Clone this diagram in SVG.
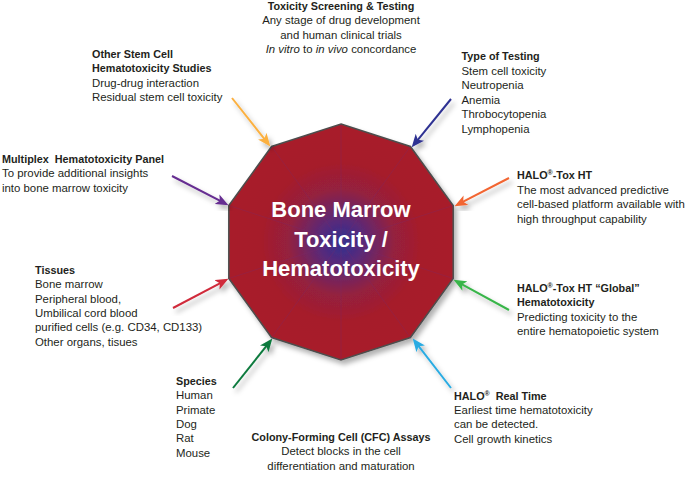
<svg xmlns="http://www.w3.org/2000/svg" width="688" height="488" viewBox="0 0 688 488">
<style>
text{font-family:"Liberation Sans",Arial,sans-serif;fill:#231f20;font-size:11.4px}
.b{font-weight:bold;font-size:10.8px}
.c{text-anchor:middle}
.title{fill:#fff;font-size:22px;font-weight:bold;text-anchor:middle}
.arr{stroke-width:2;fill:none;filter:url(#sh)}
.spoke{stroke:#7a2a6a;stroke-width:0.7;opacity:0.45}
</style>
<defs>
<filter id="sh" x="-30%" y="-30%" width="160%" height="160%">
<feDropShadow dx="3" dy="4" stdDeviation="2.5" flood-color="#000" flood-opacity="0.3"/>
</filter>
<radialGradient id="g" cx="341" cy="242" r="118" gradientUnits="userSpaceOnUse">
<stop offset="0" stop-color="#2e3192"/>
<stop offset="0.18" stop-color="#572a7b"/>
<stop offset="0.45" stop-color="#94203f"/>
<stop offset="0.68" stop-color="#a61e2a"/>
<stop offset="1" stop-color="#a81e29"/>
</radialGradient>
<marker id="m1" viewBox="0 0 12 10" markerWidth="13" markerHeight="11" markerUnits="userSpaceOnUse" refX="6" refY="5" orient="auto"><path d="M0,0 L12,5 L0,10 L3,5 z" fill="#a8246e"/></marker>
<marker id="m2" viewBox="0 0 12 10" markerWidth="13" markerHeight="11" markerUnits="userSpaceOnUse" refX="6" refY="5" orient="auto"><path d="M0,0 L12,5 L0,10 L3,5 z" fill="#fbb040"/></marker>
<marker id="m3" viewBox="0 0 12 10" markerWidth="13" markerHeight="11" markerUnits="userSpaceOnUse" refX="6" refY="5" orient="auto"><path d="M0,0 L12,5 L0,10 L3,5 z" fill="#2e3192"/></marker>
<marker id="m4" viewBox="0 0 12 10" markerWidth="13" markerHeight="11" markerUnits="userSpaceOnUse" refX="6" refY="5" orient="auto"><path d="M0,0 L12,5 L0,10 L3,5 z" fill="#f26531"/></marker>
<marker id="m5" viewBox="0 0 12 10" markerWidth="13" markerHeight="11" markerUnits="userSpaceOnUse" refX="6" refY="5" orient="auto"><path d="M0,0 L12,5 L0,10 L3,5 z" fill="#662d91"/></marker>
<marker id="m6" viewBox="0 0 12 10" markerWidth="13" markerHeight="11" markerUnits="userSpaceOnUse" refX="6" refY="5" orient="auto"><path d="M0,0 L12,5 L0,10 L3,5 z" fill="#d02a3a"/></marker>
<marker id="m7" viewBox="0 0 12 10" markerWidth="13" markerHeight="11" markerUnits="userSpaceOnUse" refX="6" refY="5" orient="auto"><path d="M0,0 L12,5 L0,10 L3,5 z" fill="#0b7a3e"/></marker>
<marker id="m8" viewBox="0 0 12 10" markerWidth="13" markerHeight="11" markerUnits="userSpaceOnUse" refX="6" refY="5" orient="auto"><path d="M0,0 L12,5 L0,10 L3,5 z" fill="#39b54a"/></marker>
<marker id="m9" viewBox="0 0 12 10" markerWidth="13" markerHeight="11" markerUnits="userSpaceOnUse" refX="6" refY="5" orient="auto"><path d="M0,0 L12,5 L0,10 L3,5 z" fill="#29abe2"/></marker>
<marker id="m10" viewBox="0 0 12 10" markerWidth="13" markerHeight="11" markerUnits="userSpaceOnUse" refX="6" refY="5" orient="auto"><path d="M0,0 L12,5 L0,10 L3,5 z" fill="#ec1e79"/></marker>
</defs>
<rect width="688" height="488" fill="#fff"/>

<g id="center">
<polygon points="341,124 410.4,146.5 453.2,205.5 453.2,278.5 410.4,337.5 341,360 271.6,337.5 228.8,278.5 228.8,205.5 271.6,146.5" fill="url(#g)" stroke="#4d4d4d" stroke-width="1.5" filter="url(#sh)"/>
<g class="spoke">
<line x1="341" y1="242" x2="341" y2="124"/>
<line x1="341" y1="242" x2="410.4" y2="146.5"/>
<line x1="341" y1="242" x2="453.2" y2="205.5"/>
<line x1="341" y1="242" x2="453.2" y2="278.5"/>
<line x1="341" y1="242" x2="410.4" y2="337.5"/>
<line x1="341" y1="242" x2="341" y2="360"/>
<line x1="341" y1="242" x2="271.6" y2="337.5"/>
<line x1="341" y1="242" x2="228.8" y2="278.5"/>
<line x1="341" y1="242" x2="228.8" y2="205.5"/>
<line x1="341" y1="242" x2="271.6" y2="146.5"/>
</g>
<text class="title" x="341" y="217">Bone Marrow</text>
<text class="title" x="341" y="247">Toxicity /</text>
<text class="title" x="341" y="275.5">Hematotoxicity</text>
</g>

<g id="connectors">
<line class="arr" x1="341" y1="60" x2="341" y2="118" stroke="#a8246e" marker-end="url(#m1)"/>
<line class="arr" x1="232" y1="98" x2="266.3" y2="141.3" stroke="#fbb040" marker-end="url(#m2)"/>
<line class="arr" x1="451" y1="99" x2="415.8" y2="142.3" stroke="#2e3192" marker-end="url(#m3)"/>
<line class="arr" x1="509" y1="178" x2="460.3" y2="203.2" stroke="#f26531" marker-end="url(#m4)"/>
<line class="arr" x1="172" y1="176" x2="222.7" y2="202.2" stroke="#662d91" marker-end="url(#m5)"/>
<line class="arr" x1="173" y1="308" x2="222.7" y2="281.8" stroke="#d02a3a" marker-end="url(#m6)"/>
<line class="arr" x1="233" y1="388" x2="268.3" y2="343.7" stroke="#0b7a3e" marker-end="url(#m7)"/>
<line class="arr" x1="509" y1="310" x2="459.3" y2="282.9" stroke="#39b54a" marker-end="url(#m8)"/>
<line class="arr" x1="451" y1="388" x2="416.7" y2="343.7" stroke="#29abe2" marker-end="url(#m9)"/>
<line class="arr" x1="341" y1="423" x2="341" y2="366" stroke="#ec1e79" marker-end="url(#m10)"/>
</g>

<g id="toxicity-screening">
<text class="b c" x="341" y="9.5">Toxicity Screening &amp; Testing</text>
<text class="c" x="341" y="24">Any stage of drug development</text>
<text class="c" x="341" y="38.5">and human clinical trials</text>
<text class="c" x="341" y="53"><tspan font-style="italic">In vitro</tspan> to <tspan font-style="italic">in vivo</tspan> concordance</text>
</g>

<g id="other-stem-cell">
<text class="b" x="92" y="57.5">Other Stem Cell</text>
<text class="b" x="92" y="72">Hematotoxicity Studies</text>
<text x="92" y="86.5">Drug-drug interaction</text>
<text x="92" y="101">Residual stem cell toxicity</text>
</g>

<g id="type-of-testing">
<text class="b" x="461.5" y="60">Type of Testing</text>
<text x="461.5" y="74.5">Stem cell toxicity</text>
<text x="461.5" y="89">Neutropenia</text>
<text x="461.5" y="103.5">Anemia</text>
<text x="461.5" y="118">Throbocytopenia</text>
<text x="461.5" y="132.5">Lymphopenia</text>
</g>

<g id="multiplex">
<text class="b" x="2" y="162.5" xml:space="preserve">Multiplex  Hematotoxicity Panel</text>
<text x="2" y="177">To provide additional insights</text>
<text x="2" y="191.5">into bone marrow toxicity</text>
</g>

<g id="halo-tox-ht">
<text class="b" x="517" y="178.5">HALO<tspan font-size="7" dy="-3.5">®</tspan><tspan dy="3.5">-Tox HT</tspan></text>
<text x="517" y="193.5">The most advanced predictive</text>
<text x="517" y="208">cell-based platform available with</text>
<text x="517" y="222.5">high throughput capability</text>
</g>

<g id="tissues">
<text class="b" x="35" y="273.5">Tissues</text>
<text x="35" y="288">Bone marrow</text>
<text x="35" y="302.5">Peripheral blood,</text>
<text x="35" y="317">Umbilical cord blood</text>
<text x="35" y="331">purified cells (e.g. CD34, CD133)</text>
<text x="35" y="345.5">Other organs, tisues</text>
</g>

<g id="halo-global">
<text class="b" x="517" y="291.5">HALO<tspan font-size="7" dy="-3.5">®</tspan><tspan dy="3.5">-Tox HT “Global”</tspan></text>
<text class="b" x="517" y="306">Hematotoxicity</text>
<text x="517" y="320.5">Predicting toxicity to the</text>
<text x="517" y="335">entire hematopoietic system</text>
</g>

<g id="species">
<text class="b" x="176" y="384.5">Species</text>
<text x="176" y="399">Human</text>
<text x="176" y="413.5">Primate</text>
<text x="176" y="428">Dog</text>
<text x="176" y="442">Rat</text>
<text x="176" y="456.5">Mouse</text>
</g>

<g id="halo-real-time">
<text class="b" x="454" y="399.5" xml:space="preserve">HALO<tspan font-size="7" dy="-3.5">®</tspan><tspan dy="3.5">  Real Time</tspan></text>
<text x="454" y="414">Earliest time hematotoxicity</text>
<text x="454" y="428">can be detected.</text>
<text x="454" y="442.5">Cell growth kinetics</text>
</g>

<g id="cfc-assays">
<text class="b c" x="341" y="440.5">Colony-Forming Cell (CFC) Assays</text>
<text class="c" x="341" y="455">Detect blocks in the cell</text>
<text class="c" x="341" y="469.5">differentiation and maturation</text>
</g>
</svg>
